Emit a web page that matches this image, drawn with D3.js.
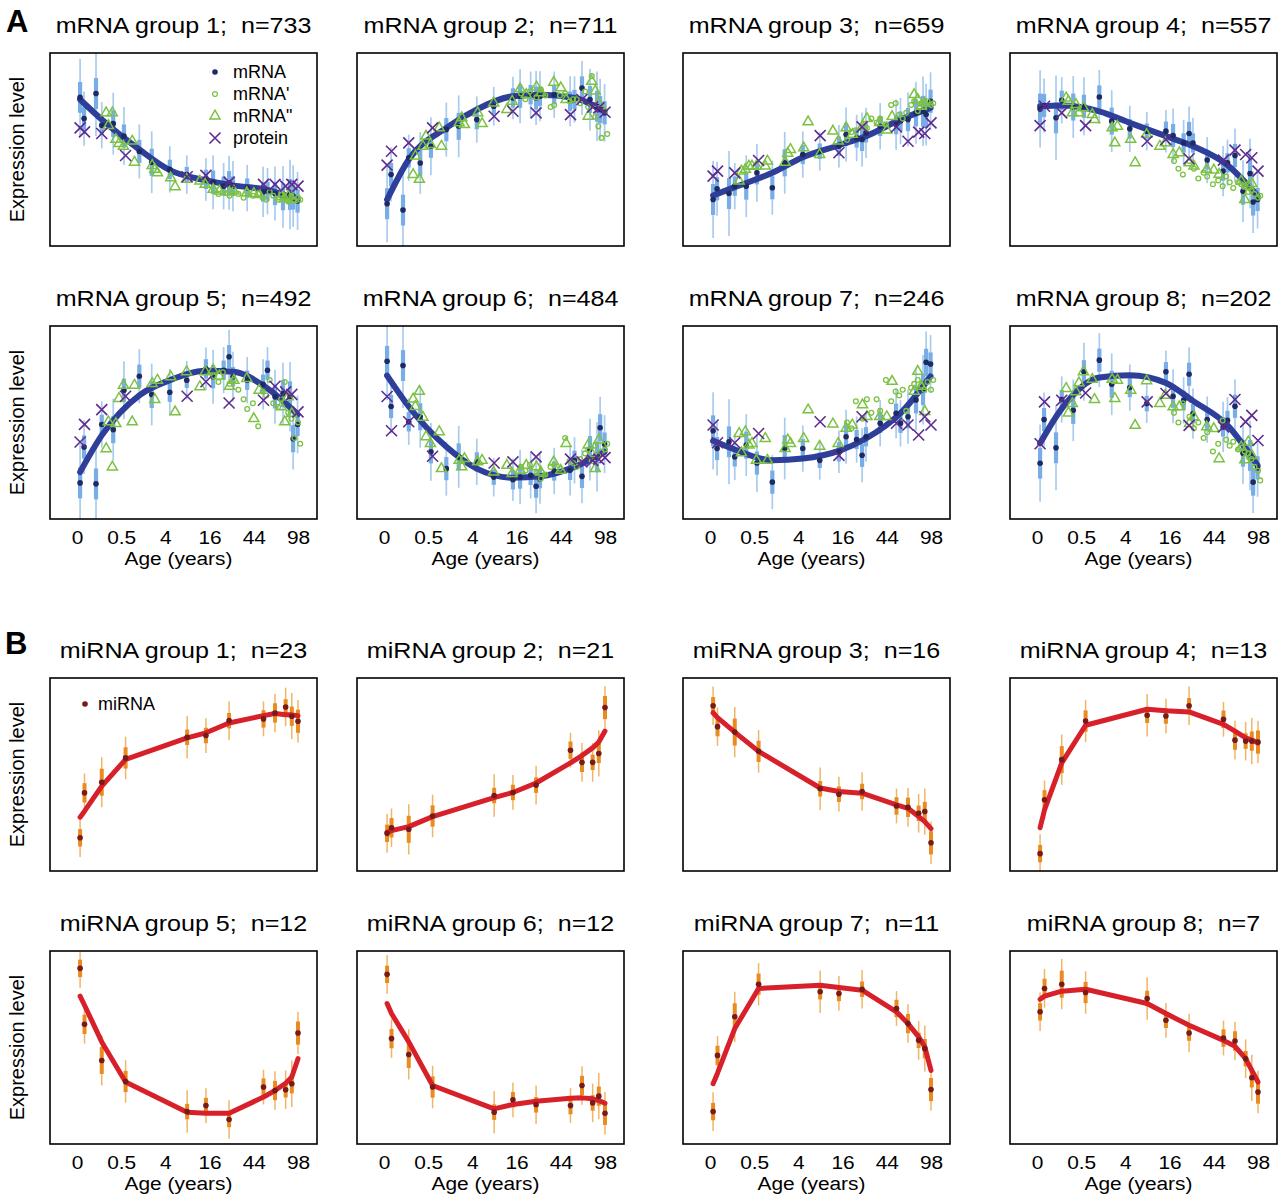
<!DOCTYPE html>
<html>
<head>
<meta charset="utf-8">
<script src="https://cdn.jsdelivr.net/npm/d3@7"></script>
<style>
  body { margin: 0; background: #fff; }
  text { font-family: "Liberation Sans", Arial, Helvetica, sans-serif; fill: #000; white-space: pre; }
</style>
</head>
<body>
<svg id="chart" width="1280" height="1197"></svg>
<script>
'use strict';

// ---- data (expression values on a 0-100 scale inside each panel) ----
const xTicks = [0, 0.5, 4, 16, 44, 98];
const xTickLabels = ['0', '0.5', '4', '16', '44', '98'];

// sample ages (years)
const mrnaAges = [0.035, 0.08, 0.215, 0.28, 0.41, 0.59, 1.34, 2.34, 4.7, 8.3, 14.5, 17.5, 22.7, 25.8, 28.2, 38.4, 52.8, 57.4, 65.9, 76, 85.8, 90.4, 97.3];
const mrnaWhisker = [20, 14, 22, 12, 16, 15, 14, 16, 12, 10, 11, 14, 12, 14, 13, 12, 13, 12, 14, 16, 18, 16, 15];
const mrnaBox = [8, 6, 8, 5, 7, 6, 6, 7, 5, 4, 5, 6, 5, 6, 5, 5, 5, 5, 6, 7, 8, 7, 6];
const fitAges = [0.035, 0.28, 1.34, 4.7, 14.5, 28.2, 57.4, 97.3];
const doubleAges = [0.33, 0.355, 0.40, 0.44, 0.475, 0.572, 0.938, 1.053, 2.381, 2.656, 2.954, 4.856, 5.67, 8.262, 12.26, 14.21, 17.52, 20.45, 26.04, 28.8, 38.04, 44, 48.87, 73.64, 78.35, 83.26, 88.41];
const primeAges = [17.92, 20.01, 22.28, 26.04, 28.8, 31.77, 35.63, 38.39, 43.22, 48.03, 52.34, 55.98, 59.81, 63.84, 69.7, 73.64, 78.35, 83.26, 87.76, 92.43, 98, 101.6];
const sampleAges = [0.035, 0.085, 0.28, 0.65, 8.4, 14.5, 25.8, 53.2, 65.9, 79.6, 88.4, 98];

const mrnaN = [733, 711, 659, 557, 492, 484, 246, 202];
const mirnaN = [23, 21, 16, 13, 12, 12, 11, 7];

const mrnaFit = [
  [75.9, 65.5, 50, 39.3, 34, 31.4, 29, 24.1],
  [24, 44.8, 61.2, 70.7, 77.6, 78.4, 76.7, 69.8],
  [26.2, 30.5, 37.9, 46, 52.2, 56.9, 65.5, 71.6],
  [72.4, 72.8, 69.8, 63.8, 56.9, 51.7, 41.9, 25.9],
  [24.3, 43.3, 64.1, 71.9, 76.8, 76.3, 67.6, 54.2],
  [74.3, 58.3, 37.4, 26.1, 21.4, 22.1, 27, 34.8],
  [40.5, 36, 30.4, 31.3, 35.3, 41.7, 54.8, 73.9],
  [39.3, 57.2, 73.3, 74.5, 70.5, 61.2, 48.5, 27.7]
];
const mrnaMean = [
  [77, 66, 79, 62.6, 63.4, 57, 49, 43.4, 39.7, 37, 34.5, 33, 31, 32.8, 31, 30, 28, 28.4, 27.2, 25.5, 26.7, 25.9, 23.3],
  [21.9, 37, 18.6, 45.7, 43, 51.7, 60.3, 62, 65.5, 72.4, 76.7, 77.6, 78.4, 76.7, 77.6, 78.4, 75, 75.9, 81.9, 75.9, 72.4, 70.7, 69],
  [24.1, 29.7, 27.2, 31, 31, 37.9, 30.2, 43.1, 47.4, 49.1, 51.7, 57.8, 56, 55.2, 58.6, 62, 62.9, 64.7, 65.5, 69, 69.8, 68.1, 75],
  [71, 72.8, 66.4, 75.5, 72, 72.4, 77.2, 64.7, 60.7, 59.5, 59.5, 57.2, 53.4, 58.3, 53.4, 44.5, 38.8, 43.1, 46.9, 28.4, 37.6, 22.8, 24.1],
  [18.7, 37.3, 18.2, 49, 46.3, 66.7, 74, 64.5, 65.7, 71.9, 77.8, 73.7, 77.1, 84.1, 73.7, 71.9, 69.8, 77.1, 63.3, 65, 63.3, 41.6, 49],
  [81.7, 58.3, 79.5, 50.4, 53, 34.8, 26.1, 32.2, 29.6, 21.7, 20.3, 21.7, 22.6, 17, 20.9, 24.9, 25.2, 30.4, 22.1, 36, 32.2, 47.3, 38.8],
  [45.7, 36.5, 40, 32.2, 38.3, 29, 19.1, 36.5, 36.5, 30.4, 34.8, 42.6, 41.2, 33, 42.6, 49.6, 54.8, 49.6, 53, 61.7, 67, 81.2, 80.3],
  [28.9, 51.5, 36.9, 61.9, 56.3, 76.3, 82.3, 69.8, 68.1, 59.8, 76.3, 63.6, 61.5, 75, 54.6, 51.5, 47.7, 51.1, 58.4, 34.1, 32.9, 19.1, 26.5]
];
// mRNA'' (triangles)
const mrnaDouble = [
  [69, 62.4, 69, 55.2, 53.1, 51.7, 54.3, 43.4, 41.7, 39.7, 37.9, 35.3, 30.7, 34.5, 33.6, 31.9, 29.3, 28.4, 27.9, 28.4, 27.6, 27.2, 26.7, 25.5, 24.5, 25.9, 24.1],
  [37, 46.6, 34.5, 51.7, 56.9, 52.6, 61.2, 51.7, 63.8, 66.4, 62.9, 69, 63.4, 74.1, 70.7, 75, 81.4, 78.4, 82.4, 79.3, 84.8, 81.9, 75.9, 67.2, 85.3, 80.2, 74.1],
  [33.6, 38.8, 39.7, 41.4, 41.4, 41.4, 41.4, 44, 43.4, 48, 50, 50.8, 64.3, 47.4, 59.5, 54.3, 61.2, 57.8, 62, 66, 64, 60, 67, 78.4, 75.9, 72.4, 74],
  [76.7, 75, 69, 73.3, 69, 71.6, 68.1, 65.5, 61.2, 53.4, 62, 55.2, 43.1, 57.8, 51.7, 53.4, 47.4, 48.3, 43.1, 41.4, 39.7, 39.3, 37.1, 33.6, 24.1, 31, 32.4],
  [36.4, 50.3, 26.9, 49.4, 62.4, 69.3, 50.3, 69.3, 70.2, 61.9, 71.9, 73.7, 55.5, 76.3, 68.5, 76.3, 77.1, 74, 68.8, 71.9, 72.8, 52, 66.7, 58.1, 50.3, 63.3, 54.6],
  [62.1, 58.3, 66.1, 52.7, 42.6, 39.1, 45.2, 26.1, 30.4, 27, 31.3, 29.6, 30.4, 24.3, 27.8, 23.5, 25.2, 27.8, 27, 24.3, 29.6, 25.2, 39.1, 38.3, 33.9, 26.1, 40.9],
  [44.3, 34.3, 45.2, 38.3, 39.1, 30.4, 41.7, 30.4, 36.5, 40.9, 39.1, 41.7, 56.5, 37.7, 49.2, 39.1, 47, 48.7, 59.1, 53, 53, 53, 71.3, 66.1, 76.5, 68.7, 55.7],
  [67.6, 54.9, 59.8, 65.9, 70.5, 76.3, 72.3, 61.9, 72.3, 62.4, 71.9, 66.7, 48.5, 71.6, 59.8, 64.1, 58.1, 58.1, 49.4, 52.9, 47.7, 46.8, 31.2, 37.3, 30.7, 39.9, 32.9]
];
// mRNA' (small circles)
const mrnaPrime = [
  [29, 27, 28, 26, 29, 27, 25, 28, 26, 27, 25, 24, 28, 26, 24, 27, 25, 23, 26, 24, 25, 24],
  [79, 76, 80, 77, 81, 78, 72, 73, 78, 79, 75, 76, 76, 74, 80, 72, 88, 67, 62, 56, 70, 58],
  [55, 59, 60, 62, 61, 66, 64, 66, 63, 73, 74, 68, 66, 69, 73, 75, 70, 74, 72, 75, 73, 74],
  [44, 40, 37, 44, 40, 35, 38, 36, 32, 34, 31, 36, 33, 30, 33, 32, 31, 28, 29, 27, 25, 26],
  [74, 71, 76, 70, 72, 67, 62, 57, 60, 48, 66, 64, 72, 60, 58, 62, 71, 55, 52, 42, 50, 39],
  [27, 25, 28, 24, 21, 23, 27, 28, 26, 42, 30, 29, 27, 31, 34, 36, 30, 38, 33, 35, 36, 39],
  [50, 47, 61, 52, 62, 55, 62, 56, 72, 61, 66, 64, 67, 56, 68, 70, 72, 69, 67, 71, 67, 72],
  [55, 50, 60, 53, 47, 50, 42, 45, 35, 39, 51, 41, 38, 40, 36, 37, 35, 34, 31, 27, 25, 20]
];
const proteinVals = [
  [61.2, 59.1, 58.3, 46.9, 35.9, 36.6, 33.1, 31.9, 31.9, 31, 31.9, 31],
  [41.9, 49.1, 53.4, 61.2, 67.2, 69.8, 69, 68.1, 75.9, 72, 71.6, 69.3],
  [36.2, 38.8, 37.9, 44.3, 57.2, 48.3, 61.7, 61.7, 54.3, 59, 58.3, 63.8],
  [62.4, 72.4, 69, 62.4, 54.3, 55.2, 45.2, 44.5, 49.7, 47.4, 45.7, 38.8],
  [39.9, 49, 56.7, 63.6, 63.6, 71.1, 60.1, 61.5, 68.8, 65.9, 64.6, 55.5],
  [63.5, 45.7, 50.4, 32.5, 29, 29.6, 32.2, 31, 29.6, 30.4, 31, 31.8],
  [48.7, 39.5, 39.5, 44.3, 50.4, 33, 53, 49.6, 48.7, 43.5, 53, 48.7],
  [39, 60.7, 61.5, 65.3, 60.7, 65, 48.5, 47.7, 61.9, 50.3, 53.7, 40.7]
];

const mirnaWhisker = [10, 10, 13, 11, 11, 9, 10, 9, 10, 10, 12, 11];
const mirnaBox = [4.5, 5, 7, 5.5, 4, 4, 4, 4.5, 5, 4, 5, 6];
const mirnaMean = [
  [17.2, 40.5, 46, 58.6, 69.3, 70.2, 77.9, 78.8, 81.9, 85, 80.2, 77.6],
  [19.5, 22.4, 21.6, 28.5, 39.1, 40.7, 44.5, 62.6, 56.3, 56.3, 60.9, 84.7],
  [85.6, 74.8, 72, 62, 42.6, 39.8, 41.2, 33.7, 33, 29.9, 30.8, 14.6],
  [9, 36.9, 57.7, 77.7, 80.7, 80.3, 85.6, 78.6, 67.8, 67.3, 67.3, 66.8],
  [91, 62, 43.3, 32.4, 16.8, 19.9, 12.7, 29.5, 27.7, 28.1, 31.2, 57.5],
  [87.9, 54.6, 46.4, 29.5, 16.5, 22.9, 20.3, 19.9, 30.3, 21.3, 24.8, 15.9],
  [16.8, 45.9, 65.9, 82.8, 78.9, 78, 80.2, 70.2, 62.4, 53.7, 49.4, 28.2],
  [68.5, 80.6, 82.8, 78.5, 75.4, 64.1, 57.5, 54.9, 53.4, 44.2, 34.3, 26.9]
];
const mirnaFit = [
  [27.9, 31, 44, 57.8, 69, 71.6, 76.7, 80.5, 81.6, 81, 80.9, 80.5],
  [20, 20.9, 23, 28.2, 38, 40.7, 45.6, 56, 59.8, 63.8, 66.8, 72.5],
  [82, 79.5, 72, 62, 43, 41.2, 40.3, 34.3, 32.5, 28.2, 25.6, 22],
  [22.4, 31.7, 56, 75.5, 83.8, 83, 82.4, 76, 72.5, 69, 67.8, 66.4],
  [76.6, 71.9, 52.9, 32.1, 16.5, 15.9, 15.9, 24.3, 27.7, 31.5, 34.7, 44.2],
  [72.8, 67.6, 52.9, 30.3, 18.2, 20.5, 22.2, 23.7, 23.9, 23.4, 22.5, 21.1],
  [31.2, 36.7, 59.8, 80.6, 82.3, 81.1, 79.7, 68.5, 62.4, 55.5, 50.3, 38.1],
  [75, 76.6, 79.2, 80.2, 72.8, 67.6, 61.5, 53.7, 50.6, 44.2, 38.1, 32.1]
];

// ---- layout ----
const colX = [50, 357, 683, 1010];
const rowY = [53, 326, 678, 951];
const boxW = 267, boxH = 193;
const textStretch = 1.16; // axis labels in the figure are slightly wide

const colors = {
  whisker: '#a9cbef', box: '#78ade5', curve: '#2e3f9a', dot: '#1f2a62',
  green: '#7cc242', purple: '#5e2b8f',
  oWhisker: '#f2b566', oBox: '#e98b1f', red: '#d7202a', mdot: '#761a1a'
};

// age axis: 4th-root spacing, ticks equally spaced
const ageT = a => a < 0.5 ? (a / 0.5) * Math.pow(0.5, 0.25) : Math.pow(a, 0.25);
const xBase = d3.scaleLinear()
  .domain(xTicks.map(ageT))
  .range(xTicks.map((d, i) => 27 + i * 44.2));
const x = a => xBase(ageT(a));
const y = d3.scaleLinear().domain([0, 100]).range([boxH, 0]);

const svg = d3.select('#chart');
svg.append('defs').append('clipPath').attr('id', 'plotClip')
  .append('rect').attr('width', boxW).attr('height', boxH);

const crossPath = 'M-5.5,-5.5L5.5,5.5M-5.5,5.5L5.5,-5.5';
const triPath = d3.symbol(d3.symbolTriangle, 44)();

function panelFrame(i, title) {
  const col = i % 4, row = Math.floor(i / 4);
  const g = svg.append('g').attr('transform', `translate(${colX[col]},${rowY[row]})`);

  g.append('text')
    .attr('transform', `translate(${boxW / 2},-20) scale(1.14,1)`)
    .attr('text-anchor', 'middle')
    .style('font-size', '22px')
    .text(title);

  if (col === 0) {
    g.append('text')
      .attr('transform', `translate(-26,${boxH / 2}) rotate(-90)`)
      .attr('text-anchor', 'middle')
      .style('font-size', '20px')
      .text('Expression level');
  }

  if (row === 1 || row === 3) {
    const ax = g.append('g')
      .attr('transform', `translate(0,${boxH})`)
      .call(d3.axisBottom(xBase)
        .tickValues(xTicks.map(ageT))
        .tickFormat((d, k) => xTickLabels[k])
        .tickSize(0)
        .tickPadding(12));
    ax.select('.domain').remove();
    ax.selectAll('text')
      .attr('transform', `scale(${textStretch},1)`)
      .style('font-size', '18px')
      .style('font-family', '"Liberation Sans", Arial, sans-serif');

    g.append('text')
      .attr('transform', `translate(${boxW / 2 - 5},${boxH + 46}) scale(${textStretch},1)`)
      .attr('text-anchor', 'middle')
      .style('font-size', '18px')
      .text('Age (years)');
  }
  return g;
}

function drawBox(g) {
  g.append('rect')
    .attr('width', boxW).attr('height', boxH)
    .attr('fill', 'none').attr('stroke', '#000').attr('stroke-width', 1.6);
}

function drawMrna(i) {
  const frame = panelFrame(i, `mRNA group ${i + 1};  n=${mrnaN[i]}`);
  const g = frame.append('g').attr('clip-path', 'url(#plotClip)');
  const mean = mrnaMean[i];

  // error bars
  g.selectAll('.whisk').data(mrnaAges).join('line')
    .attr('x1', d => x(d)).attr('x2', d => x(d))
    .attr('y1', (d, k) => y(mean[k] - mrnaWhisker[k]))
    .attr('y2', (d, k) => y(mean[k] + mrnaWhisker[k]))
    .attr('stroke', colors.whisker).attr('stroke-width', 1.7);
  g.selectAll('.qbox').data(mrnaAges).join('line')
    .attr('x1', d => x(d)).attr('x2', d => x(d))
    .attr('y1', (d, k) => y(mean[k] - mrnaBox[k]))
    .attr('y2', (d, k) => y(mean[k] + mrnaBox[k]))
    .attr('stroke', colors.box).attr('stroke-width', 4.2);

  // fitted curve
  const line = d3.line().x(d => x(d[0])).y(d => y(d[1])).curve(d3.curveMonotoneX);
  g.append('path')
    .datum(fitAges.map((a, k) => [a, mrnaFit[i][k]]))
    .attr('d', line)
    .attr('fill', 'none').attr('stroke', colors.curve)
    .attr('stroke-width', 6).attr('stroke-linecap', 'round');

  // mRNA means
  g.selectAll('.dot').data(mrnaAges).join('circle')
    .attr('cx', d => x(d)).attr('cy', (d, k) => y(mean[k]))
    .attr('r', 2.8).attr('fill', colors.dot);

  // mRNA'
  g.selectAll('.prime').data(primeAges).join('circle')
    .attr('cx', d => x(d)).attr('cy', (d, k) => y(mrnaPrime[i][k]))
    .attr('r', 2.4).attr('fill', 'none')
    .attr('stroke', colors.green).attr('stroke-width', 1.3);

  // mRNA''
  g.selectAll('.dbl').data(doubleAges).join('path')
    .attr('d', triPath)
    .attr('transform', (d, k) => `translate(${x(d)},${y(mrnaDouble[i][k])})`)
    .attr('fill', 'none').attr('stroke', colors.green).attr('stroke-width', 1.5);

  // protein
  g.selectAll('.prot').data(sampleAges).join('path')
    .attr('d', crossPath)
    .attr('transform', (d, k) => `translate(${x(d)},${y(proteinVals[i][k])})`)
    .attr('fill', 'none').attr('stroke', colors.purple).attr('stroke-width', 1.6);

  drawBox(frame);

  if (i === 0) {
    const lg = frame.append('g').attr('transform', 'translate(165,19)');
    const items = ['mRNA', "mRNA'", 'mRNA"', 'protein'];
    items.forEach((label, k) => {
      const row = lg.append('g').attr('transform', `translate(0,${k * 22})`);
      if (k === 0) row.append('circle').attr('r', 2.8).attr('fill', colors.dot);
      if (k === 1) row.append('circle').attr('r', 2.4).attr('fill', 'none').attr('stroke', colors.green).attr('stroke-width', 1.3);
      if (k === 2) row.append('path').attr('d', triPath).attr('fill', 'none').attr('stroke', colors.green).attr('stroke-width', 1.5);
      if (k === 3) row.append('path').attr('d', crossPath).attr('fill', 'none').attr('stroke', colors.purple).attr('stroke-width', 1.6);
      row.append('text').attr('x', 18).attr('dy', '0.35em').style('font-size', '18px').text(label);
    });
  }
}

function drawMirna(i) {
  const frame = panelFrame(i + 8, `miRNA group ${i + 1};  n=${mirnaN[i]}`);
  const g = frame.append('g').attr('clip-path', 'url(#plotClip)');
  const mean = mirnaMean[i];

  g.selectAll('.whisk').data(sampleAges).join('line')
    .attr('x1', d => x(d)).attr('x2', d => x(d))
    .attr('y1', (d, k) => y(mean[k] - mirnaWhisker[k]))
    .attr('y2', (d, k) => y(mean[k] + mirnaWhisker[k]))
    .attr('stroke', colors.oWhisker).attr('stroke-width', 1.5);
  g.selectAll('.qbox').data(sampleAges).join('line')
    .attr('x1', d => x(d)).attr('x2', d => x(d))
    .attr('y1', (d, k) => y(mean[k] - mirnaBox[k]))
    .attr('y2', (d, k) => y(mean[k] + mirnaBox[k]))
    .attr('stroke', colors.oBox).attr('stroke-width', 4);

  const line = d3.line().x(d => x(d[0])).y(d => y(d[1]));
  g.append('path')
    .datum(sampleAges.map((a, k) => [a, mirnaFit[i][k]]))
    .attr('d', line)
    .attr('fill', 'none').attr('stroke', colors.red)
    .attr('stroke-width', 5).attr('stroke-linecap', 'round').attr('stroke-linejoin', 'round');

  g.selectAll('.dot').data(sampleAges).join('circle')
    .attr('cx', d => x(d)).attr('cy', (d, k) => y(mean[k]))
    .attr('r', 2.8).attr('fill', colors.mdot);

  drawBox(frame);

  if (i === 0) {
    frame.append('circle').attr('cx', 35).attr('cy', 26).attr('r', 2.8).attr('fill', colors.mdot);
    frame.append('text').attr('x', 48).attr('y', 26).attr('dy', '0.35em')
      .style('font-size', '18px').text('miRNA');
  }
}

for (let i = 0; i < 8; i++) drawMrna(i);
for (let i = 0; i < 8; i++) drawMirna(i);

// section letters
svg.append('text').attr('x', 6).attr('y', 32)
  .style('font-size', '31px').style('font-weight', 'bold').text('A');
svg.append('text').attr('x', 5).attr('y', 654)
  .style('font-size', '31px').style('font-weight', 'bold').text('B');
</script>
</body>
</html>
